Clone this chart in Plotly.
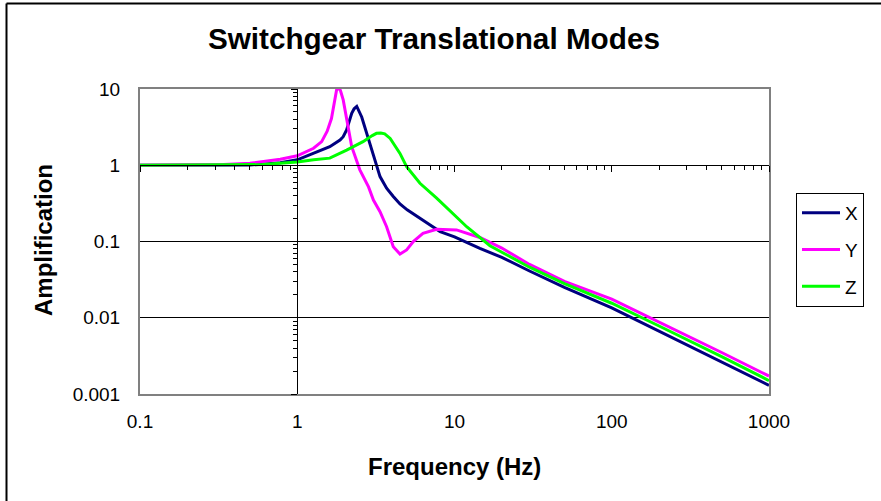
import plotly.graph_objects as go

# ---- data ----
freq_x = [0.1, 0.2, 0.3, 0.5, 0.6, 0.78, 1.0, 1.27, 1.61, 1.87, 1.96, 2.06, 2.22, 2.3, 2.39, 2.57, 2.76, 3.05, 3.36, 3.7, 4.08, 4.5, 5.0, 6.0, 7.0, 8.1, 10, 14.5, 20, 30, 50, 100, 200, 500, 1000]
amp_x = [1.0, 1.0, 1.0, 1.01, 1.03, 1.08, 1.18, 1.45, 1.75, 2.14, 2.37, 2.9, 4.8, 5.5, 5.9, 4.3, 2.6, 1.36, 0.71, 0.5, 0.39, 0.31, 0.26, 0.2, 0.164, 0.135, 0.115, 0.081, 0.062, 0.041, 0.025, 0.0135, 0.0067, 0.0026, 0.0013]

freq_y = [0.1, 0.2, 0.34, 0.5, 0.6, 0.78, 1.0, 1.27, 1.43, 1.55, 1.65, 1.73, 1.78, 1.83, 1.88, 1.96, 2.06, 2.22, 2.5, 2.84, 3.05, 3.36, 3.7, 4.08, 4.5, 4.96, 5.47, 6.3, 7.7, 10.3, 14.5, 20, 30, 50, 100, 200, 500, 1000]
amp_y = [1.0, 1.0, 1.02, 1.06, 1.12, 1.2, 1.33, 1.67, 2.04, 2.8, 4.1, 7.2, 9.8, 10.2, 9.6, 7.2, 3.9, 1.75, 0.87, 0.52, 0.35, 0.246, 0.156, 0.0855, 0.0686, 0.0775, 0.1, 0.128, 0.145, 0.142, 0.113, 0.082, 0.05, 0.03, 0.0175, 0.0088, 0.0035, 0.00172]

freq_z = [0.1, 0.3, 0.6, 0.78, 1.0, 1.27, 1.61, 2.06, 2.62, 3.0, 3.19, 3.4, 3.6, 3.9, 4.5, 4.96, 6.03, 7.7, 9.8, 12, 16.8, 20, 30, 50, 100, 200, 500, 1000]
amp_z = [1.0, 1.0, 1.02, 1.06, 1.1, 1.18, 1.24, 1.58, 2.04, 2.45, 2.62, 2.64, 2.58, 2.25, 1.43, 0.96, 0.58, 0.37, 0.23, 0.155, 0.088, 0.072, 0.046, 0.028, 0.0155, 0.0078, 0.0031, 0.0015]

series_names = ["X", "Y", "Z"]
series_colors = ["#000080", "#FF00FF", "#00FF00"]

x_tickvals = [0.1, 1, 10, 100, 1000]
x_ticktext = ["0.1", "1", "10", "100", "1000"]
y_tickvals = [0.001, 0.01, 0.1, 1, 10]
y_ticktext = ["0.001", "0.01", "0.1", "1", "10"]

FONT = "Liberation Sans, Arial, sans-serif"

fig = go.Figure()
for name, fx, ay, col in zip(series_names, [freq_x, freq_y, freq_z], [amp_x, amp_y, amp_z], series_colors):
    fig.add_trace(go.Scatter(x=fx, y=ay, mode="lines", name=name, legendgroup=name,
                             line=dict(color=col, width=3), hoverinfo="skip"))

# invisible trace to carry the crossing axes
fig.add_trace(go.Scatter(x=freq_x, y=amp_x, xaxis="x2", yaxis="y2", mode="lines",
                         opacity=0, showlegend=False, hoverinfo="skip"))

minor_x = [m * 10 ** e for e in range(-1, 3) for m in range(2, 10)]
minor_y = [m * 10 ** e for e in range(-3, 1) for m in range(2, 10)]

fig.update_layout(
    width=881, height=501,
    margin=dict(l=140, r=112, t=89, b=107, autoexpand=False),
    paper_bgcolor="white", plot_bgcolor="white",
    font=dict(family=FONT, color="black", size=19),
    title=dict(text="<b>Switchgear Translational Modes</b>", x=0.4925, xanchor="center",
               y=1 - 38.5 / 501, yanchor="middle", font=dict(size=29.7, family=FONT)),
    showlegend=True,
    legend=dict(x=(796 - 140) / 629, xanchor="left", y=(394 - 193) / 305, yanchor="top",
                bordercolor="black", borderwidth=1, bgcolor="white", itemwidth=38,
                font=dict(size=19), traceorder="grouped", tracegroupgap=9),
    xaxis=dict(type="log", range=[-1, 3], tickmode="array", tickvals=x_tickvals, ticktext=x_ticktext,
               showgrid=False, showline=True, linecolor="#808080", linewidth=2, mirror=True,
               ticks="", zeroline=False, ticklabelstandoff=9, tickfont=dict(size=19)),
    yaxis=dict(type="log", range=[-3, 1], tickmode="array", tickvals=y_tickvals, ticktext=y_ticktext,
               showgrid=True, gridcolor="black", gridwidth=1,
               showline=True, linecolor="#808080", linewidth=2, mirror=True,
               ticks="", zeroline=False, ticklabelstandoff=14, tickfont=dict(size=19)),
    xaxis2=dict(type="log", range=[-1, 3], overlaying="x", anchor="free", position=0.75,
                showline=True, linecolor="black", linewidth=1, showgrid=False, zeroline=False,
                showticklabels=False, tickmode="array", tickvals=x_tickvals,
                ticks="outside", ticklen=6, tickwidth=1, tickcolor="black",
                minor=dict(tickmode="array", tickvals=minor_x, ticks="outside", ticklen=4,
                           tickwidth=1, tickcolor="black", showgrid=False)),
    yaxis2=dict(type="log", range=[-3, 1], overlaying="y", anchor="free", position=0.25,
                showline=True, linecolor="black", linewidth=1, showgrid=False, zeroline=False,
                showticklabels=False, tickmode="array", tickvals=y_tickvals,
                ticks="outside", ticklen=6, tickwidth=1, tickcolor="black",
                minor=dict(tickmode="array", tickvals=minor_y, ticks="outside", ticklen=4,
                           tickwidth=1, tickcolor="black", showgrid=False)),
    annotations=[
        dict(text="<b>Amplification</b>", textangle=-90, xref="paper", yref="paper",
             x=(44 - 140) / 629, y=(394 - 240) / 305, xanchor="center", yanchor="middle",
             showarrow=False, font=dict(size=24, family=FONT)),
        dict(text="<b>Frequency (Hz)</b>", xref="paper", yref="paper",
             x=0.5, y=(394 - 466) / 305, xanchor="center", yanchor="middle",
             showarrow=False, font=dict(size=24, family=FONT)),
    ],
    shapes=[
        # chart-area frame: only left and top edges fall inside the picture
        dict(type="line", xref="paper", yref="paper",
             x0=(6.5 - 140) / 629, x1=(6.5 - 140) / 629,
             y0=(394 - 501) / 305, y1=(394 - 3.5) / 305,
             line=dict(color="black", width=2), layer="below"),
        dict(type="line", xref="paper", yref="paper",
             x0=(6.5 - 140) / 629, x1=(881 - 140) / 629,
             y0=(394 - 3.5) / 305, y1=(394 - 3.5) / 305,
             line=dict(color="black", width=2), layer="below"),
    ],
)

fig.write_html("out.html", config={"displayModeBar": False},
               post_script="document.body.style.margin='0';document.body.style.padding='0';"
                           "document.body.style.overflow='hidden';"
                           "document.documentElement.style.overflow='hidden';")
